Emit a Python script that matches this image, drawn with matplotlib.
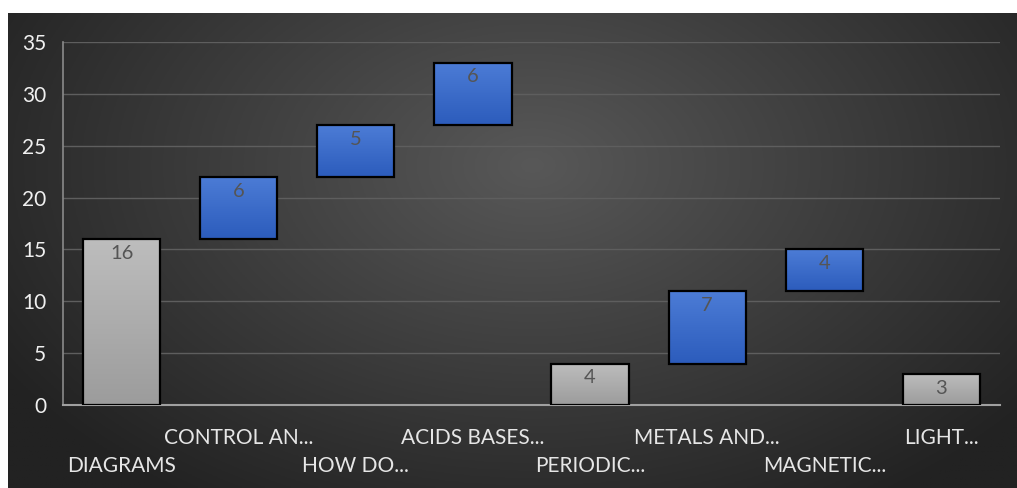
import numpy as np
import matplotlib
matplotlib.use('Agg')
import matplotlib.pyplot as plt

# chart data
categories = ['DIAGRAMS', 'CONTROL AN...', 'HOW DO...', 'ACIDS BASES...',
              'PERIODIC...', 'METALS AND...', 'MAGNETIC...', 'LIGHT...']
values = [16, 6, 5, 6, 4, 7, 4, 3]
is_total = [True, False, False, False, True, False, False, True]
yticks = [0, 5, 10, 15, 20, 25, 30, 35]

plt.rcParams['font.family'] = ['Lato', 'DejaVu Sans']

fig = plt.figure(figsize=(10.17, 4.88), dpi=100)
fig.patch.set_facecolor('white')

# dark radial background
bg = fig.add_axes([8 / 1017, 0, 1 - 8 / 1017, 1 - 13 / 488])
bg.set_axis_off()
gx, gy = np.meshgrid(np.linspace(0, 1, 400), np.linspace(0, 1, 200))
r = np.sqrt(((gx - 0.52) / 0.62) ** 2 + ((gy - 0.32) / 0.85) ** 2)
r = np.clip(r, 0, 1)
shade = 0x58 / 255 * (1 - r) + 0x22 / 255 * r
bg.imshow(np.dstack([shade, shade, shade]), aspect='auto',
          extent=[0, 1, 0, 1], origin='upper')
bg.set_xlim(0, 1)
bg.set_ylim(0, 1)

ax = fig.add_axes([63 / 1017, 1 - 405 / 488, 937 / 1017, 363 / 488])
ax.patch.set_alpha(0)

# waterfall bottoms
bottoms = []
running = 0
for v, t in zip(values, is_total):
    if t:
        bottoms.append(0)
        running = v
    else:
        bottoms.append(running)
        running += v

width = 0.66
grad = np.linspace(0, 1, 100).reshape(-1, 1)
for i, (v, b, t) in enumerate(zip(values, bottoms, is_total)):
    if t:
        top_c, bot_c = np.array([0xbd, 0xbd, 0xbd]), np.array([0x9c, 0x9c, 0x9c])
    else:
        top_c, bot_c = np.array([0x4c, 0x7c, 0xd6]), np.array([0x2c, 0x5c, 0xbc])
    img = (top_c[None, :] * (1 - grad) + bot_c[None, :] * grad) / 255
    img = img.reshape(100, 1, 3)
    ax.imshow(img, aspect='auto', origin='upper', zorder=2,
              extent=[i - width / 2, i + width / 2, b, b + v])
    ax.bar(i, v, width=width, bottom=b, facecolor='none',
           edgecolor='black', linewidth=1.6, zorder=3)
    ax.text(i, b + v - 0.55, str(v), ha='center', va='top',
            fontsize=14.5, color='#555555', zorder=4)

ax.set_xlim(-0.5, len(categories) - 0.5)
ax.set_ylim(0, 35)
ax.set_yticks(yticks)
ax.set_xticks([])
ax.yaxis.grid(True, color='#5e5e5e', linewidth=1.0)
ax.set_axisbelow(True)
ax.tick_params(axis='y', length=0, pad=12, labelsize=15, labelcolor='#f0f0f0')
for s in ['top', 'right']:
    ax.spines[s].set_visible(False)
ax.spines['left'].set_color('#8a8a8a')
ax.spines['bottom'].set_color('#a0a0a0')
ax.spines['left'].set_linewidth(1.2)
ax.spines['bottom'].set_linewidth(1.5)

# staggered category labels
for i, name in enumerate(categories):
    yoff = -0.168 if i % 2 == 0 else -0.091
    ax.text(i, yoff, name, transform=ax.get_xaxis_transform(),
            ha='center', va='center', fontsize=15, color='#e6e6e6')

fig.savefig('out.png', dpi=100)
